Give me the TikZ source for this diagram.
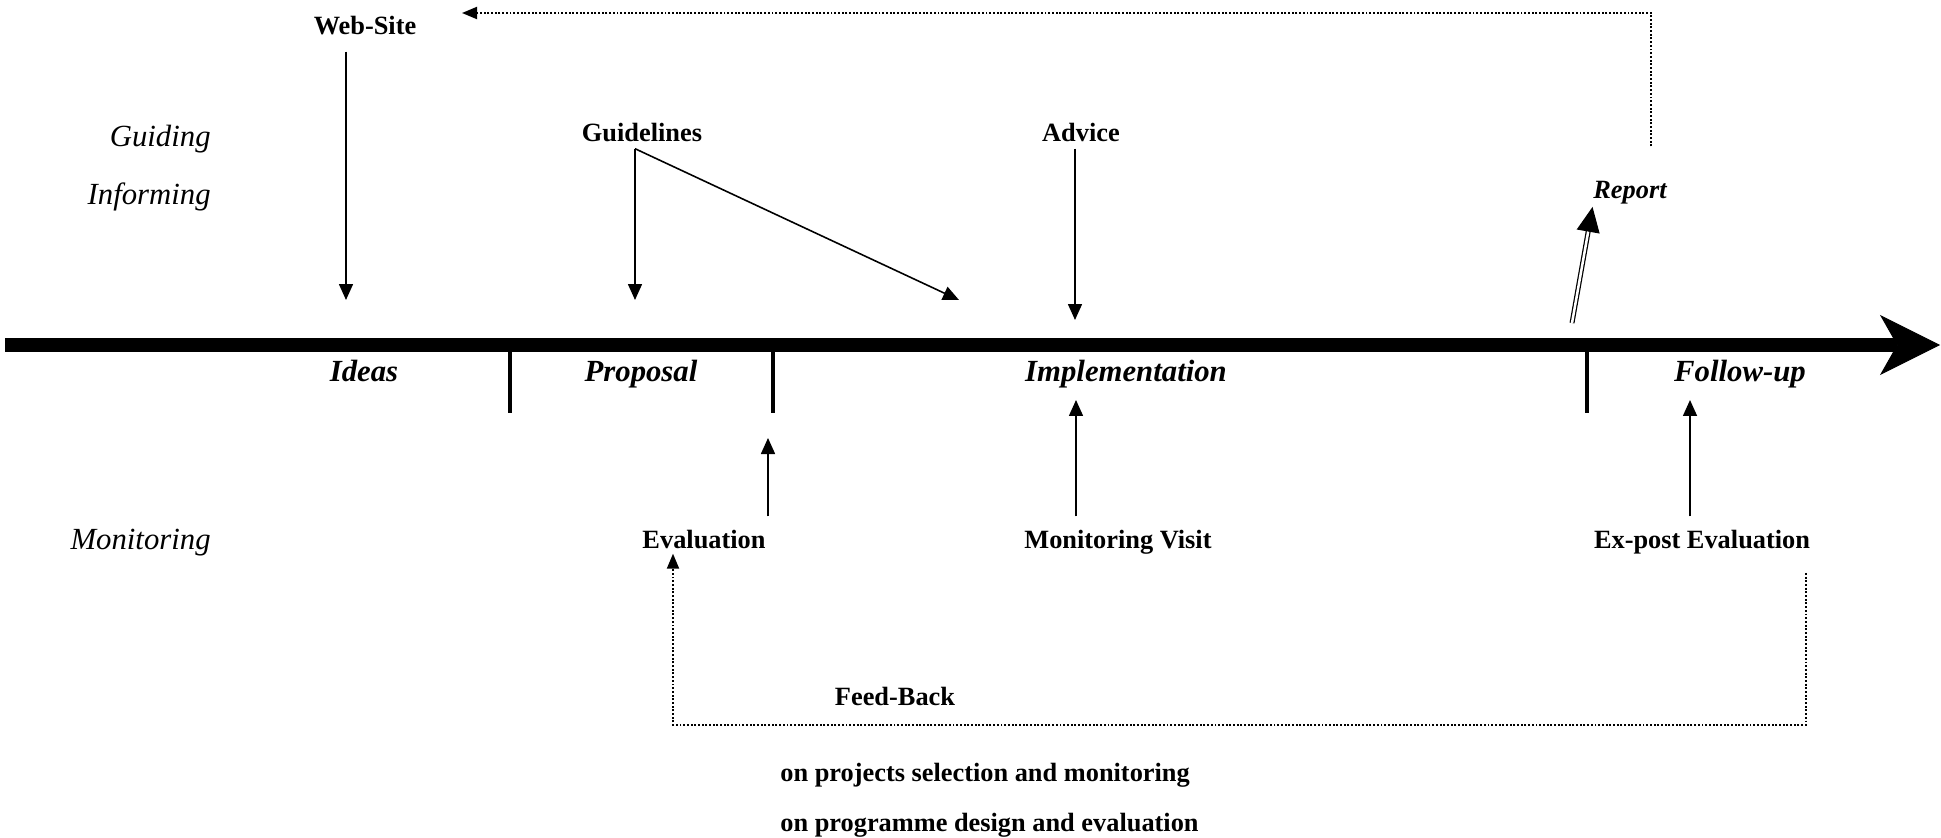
\documentclass[tikz,border=0pt]{standalone}
\usepackage{fontspec}
\setmainfont{Liberation Serif}
\usetikzlibrary{arrows.meta}

\tikzset{
  lbl/.style={font=\fontsize{15}{18}\selectfont\bfseries, inner sep=0pt, anchor=base},
  phase/.style={font=\fontsize{17.5}{21}\selectfont\bfseries\itshape, inner sep=0pt, anchor=base},
  role/.style={font=\fontsize{17.5}{21}\selectfont\itshape, inner sep=0pt, anchor=base east},
  arr/.style={line width=0.9pt, -{Triangle[length=0.32cm,width=0.28cm]}},
  tick/.style={line width=2.3pt},
  loop/.style={densely dotted, line width=1.1pt, -{Triangle[length=0.3cm,width=0.24cm]}},
  reparr/.style={double, double distance=0.05cm, line width=0.7pt,
    -{Triangle[length=0.5cm,width=0.46cm]}},
}

\begin{document}
\begin{tikzpicture}[x=0.02cm, y=-0.02cm]
  \useasboundingbox (0,0) rectangle (1941,838);

  % Time line
  \coordinate (t0) at (5,345);
  \coordinate (t1) at (1940,345);
  \draw[line width=0.28cm, -{Stealth[length=1.2cm,width=1.2cm,inset=0.34cm,line width=0.5pt]}] (t0) -- (t1);
  \foreach \x in {510, 773, 1587} {
    \draw[tick] (\x,345) -- (\x,413);
  }

  % Row titles
  \node[role] (guiding) at (211,147) {Guiding};
  \node[role] (informing) at (211,204) {Informing};
  \node[role] (monitoring) at (211,549) {Monitoring};

  % Phases
  \node[phase] (ideas) at (364,381) {Ideas};
  \node[phase] (proposal) at (641,381) {Proposal};
  \node[phase] (implementation) at (1126,381) {Implementation};
  \node[phase] (followup) at (1740,381) {Follow-up};

  % Upper labels
  \node[lbl] (website) at (365,35) {Web-Site};
  \node[lbl] (guidelines) at (642,142) {Guidelines};
  \node[lbl] (advice) at (1081,142) {Advice};
  \node[lbl, font=\fontsize{15}{18}\selectfont\bfseries\itshape] (report) at (1630,198) {Report};

  % Lower labels
  \node[lbl] (evaluation) at (704,548) {Evaluation};
  \node[lbl] (visit) at (1118,548) {Monitoring Visit};
  \node[lbl] (expost) at (1702,548) {Ex-post Evaluation};
  \node[lbl] (feedback) at (895,705) {Feed-Back};
  \node[lbl, anchor=base west] (onprojects) at (780,781) {on projects selection and monitoring};
  \node[lbl, anchor=base west] (onprogramme) at (780,831) {on programme design and evaluation};

  % Points on the time line
  \coordinate (inIdeas) at (346,300);
  \coordinate (inProp) at (635,300);
  \coordinate (inImpl) at (959,300);
  \coordinate (inAdv) at (1075,320);
  \coordinate (outEval) at (768,438);
  \coordinate (outVisit) at (1076,400);
  \coordinate (outExpost) at (1690,400);
  \coordinate (outRep) at (1572,323);

  % Guiding / informing arrows
  \draw[arr, shorten <=0.32cm] (website.south -| inIdeas) -- (inIdeas);
  \draw[arr] ([yshift=-0.12cm]guidelines.south -| inProp) -- (inProp);
  \draw[arr] ([yshift=-0.12cm]guidelines.south -| inProp) -- (inImpl);
  \draw[arr, shorten <=0.12cm] (advice.south -| inAdv) -- (inAdv);
  \draw[reparr, shorten >=0.06cm] (outRep) -- (report.south west);

  % Monitoring arrows
  \draw[arr, shorten <=0.26cm] (evaluation.north -| outEval) -- (outEval);
  \draw[arr, shorten <=0.26cm] (visit.north -| outVisit) -- (outVisit);
  \draw[arr, shorten <=0.26cm] (expost.north -| outExpost) -- (outExpost);

  % Feed-back loops
  \coordinate (tR) at (1651,0);
  \coordinate (tL) at (462,13);
  \draw[loop] ([yshift=0.68cm]report.north -| tR) |- (tL);
  \coordinate (fbR) at (1806,0);
  \coordinate (fbL) at (673,0);
  \coordinate (fbLow) at (1200,725);
  \draw[loop] ([yshift=-0.38cm]expost.south -| fbR) |- (fbLow)
    -| ([yshift=-0.1cm]evaluation.south -| fbL);
\end{tikzpicture}
\end{document}
